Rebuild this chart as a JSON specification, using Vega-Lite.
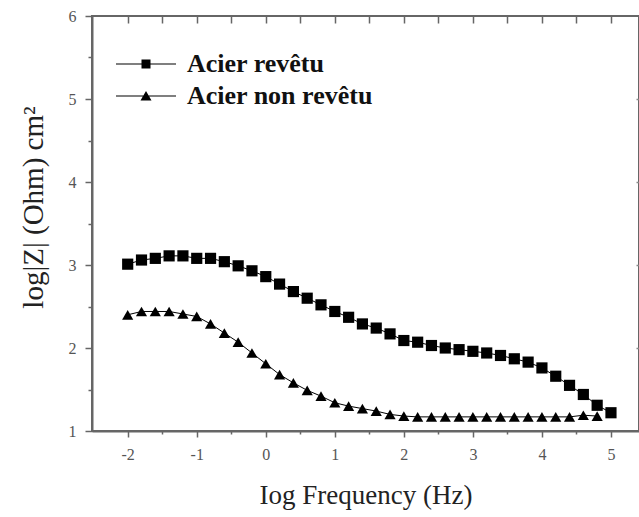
{
  "$schema": "https://vega.github.io/schema/vega-lite/v6.json",
  "autosize": "none",
  "padding": {"left": 92, "top": 16, "right": 0, "bottom": 86},
  "width": 547,
  "height": 415,
  "background": "white",
  "config": {"view": {"stroke": "#666", "strokeWidth": 2}},
  "data": {"values": [
    {"f": -2.0, "z": 3.01, "s": "Acier revêtu"},
    {"f": -1.8, "z": 3.06, "s": "Acier revêtu"},
    {"f": -1.6, "z": 3.08, "s": "Acier revêtu"},
    {"f": -1.4, "z": 3.11, "s": "Acier revêtu"},
    {"f": -1.2, "z": 3.11, "s": "Acier revêtu"},
    {"f": -1.0, "z": 3.08, "s": "Acier revêtu"},
    {"f": -0.8, "z": 3.08, "s": "Acier revêtu"},
    {"f": -0.6, "z": 3.04, "s": "Acier revêtu"},
    {"f": -0.4, "z": 2.99, "s": "Acier revêtu"},
    {"f": -0.2, "z": 2.93, "s": "Acier revêtu"},
    {"f": 0.0, "z": 2.86, "s": "Acier revêtu"},
    {"f": 0.2, "z": 2.77, "s": "Acier revêtu"},
    {"f": 0.4, "z": 2.68, "s": "Acier revêtu"},
    {"f": 0.6, "z": 2.60, "s": "Acier revêtu"},
    {"f": 0.8, "z": 2.52, "s": "Acier revêtu"},
    {"f": 1.0, "z": 2.44, "s": "Acier revêtu"},
    {"f": 1.2, "z": 2.37, "s": "Acier revêtu"},
    {"f": 1.4, "z": 2.29, "s": "Acier revêtu"},
    {"f": 1.6, "z": 2.24, "s": "Acier revêtu"},
    {"f": 1.8, "z": 2.17, "s": "Acier revêtu"},
    {"f": 2.0, "z": 2.09, "s": "Acier revêtu"},
    {"f": 2.2, "z": 2.07, "s": "Acier revêtu"},
    {"f": 2.4, "z": 2.03, "s": "Acier revêtu"},
    {"f": 2.6, "z": 2.00, "s": "Acier revêtu"},
    {"f": 2.8, "z": 1.98, "s": "Acier revêtu"},
    {"f": 3.0, "z": 1.96, "s": "Acier revêtu"},
    {"f": 3.2, "z": 1.94, "s": "Acier revêtu"},
    {"f": 3.4, "z": 1.91, "s": "Acier revêtu"},
    {"f": 3.6, "z": 1.87, "s": "Acier revêtu"},
    {"f": 3.8, "z": 1.83, "s": "Acier revêtu"},
    {"f": 4.0, "z": 1.76, "s": "Acier revêtu"},
    {"f": 4.2, "z": 1.66, "s": "Acier revêtu"},
    {"f": 4.4, "z": 1.55, "s": "Acier revêtu"},
    {"f": 4.6, "z": 1.44, "s": "Acier revêtu"},
    {"f": 4.8, "z": 1.31, "s": "Acier revêtu"},
    {"f": 5.0, "z": 1.22, "s": "Acier revêtu"},
    {"f": -2.0, "z": 2.40, "s": "Acier non revêtu"},
    {"f": -1.8, "z": 2.44, "s": "Acier non revêtu"},
    {"f": -1.6, "z": 2.44, "s": "Acier non revêtu"},
    {"f": -1.4, "z": 2.44, "s": "Acier non revêtu"},
    {"f": -1.2, "z": 2.41, "s": "Acier non revêtu"},
    {"f": -1.0, "z": 2.38, "s": "Acier non revêtu"},
    {"f": -0.8, "z": 2.29, "s": "Acier non revêtu"},
    {"f": -0.6, "z": 2.18, "s": "Acier non revêtu"},
    {"f": -0.4, "z": 2.07, "s": "Acier non revêtu"},
    {"f": -0.2, "z": 1.94, "s": "Acier non revêtu"},
    {"f": 0.0, "z": 1.81, "s": "Acier non revêtu"},
    {"f": 0.2, "z": 1.68, "s": "Acier non revêtu"},
    {"f": 0.4, "z": 1.58, "s": "Acier non revêtu"},
    {"f": 0.6, "z": 1.49, "s": "Acier non revêtu"},
    {"f": 0.8, "z": 1.42, "s": "Acier non revêtu"},
    {"f": 1.0, "z": 1.34, "s": "Acier non revêtu"},
    {"f": 1.2, "z": 1.30, "s": "Acier non revêtu"},
    {"f": 1.4, "z": 1.27, "s": "Acier non revêtu"},
    {"f": 1.6, "z": 1.24, "s": "Acier non revêtu"},
    {"f": 1.8, "z": 1.20, "s": "Acier non revêtu"},
    {"f": 2.0, "z": 1.18, "s": "Acier non revêtu"},
    {"f": 2.2, "z": 1.17, "s": "Acier non revêtu"},
    {"f": 2.4, "z": 1.17, "s": "Acier non revêtu"},
    {"f": 2.6, "z": 1.17, "s": "Acier non revêtu"},
    {"f": 2.8, "z": 1.17, "s": "Acier non revêtu"},
    {"f": 3.0, "z": 1.17, "s": "Acier non revêtu"},
    {"f": 3.2, "z": 1.17, "s": "Acier non revêtu"},
    {"f": 3.4, "z": 1.17, "s": "Acier non revêtu"},
    {"f": 3.6, "z": 1.17, "s": "Acier non revêtu"},
    {"f": 3.8, "z": 1.17, "s": "Acier non revêtu"},
    {"f": 4.0, "z": 1.17, "s": "Acier non revêtu"},
    {"f": 4.2, "z": 1.17, "s": "Acier non revêtu"},
    {"f": 4.4, "z": 1.17, "s": "Acier non revêtu"},
    {"f": 4.6, "z": 1.19, "s": "Acier non revêtu"},
    {"f": 4.8, "z": 1.18, "s": "Acier non revêtu"}
  ]},
  "layer": [
    {
      "mark": {"type": "line", "color": "black", "strokeWidth": 1},
      "encoding": {
        "x": {"field": "f", "type": "quantitative",
          "scale": {"domain": [-2.517, 5.406], "nice": false, "zero": false},
          "axis": {"orient": "bottom", "values": [-2, -1.5, -1, -0.5, 0, 0.5, 1, 1.5, 2, 2.5, 3, 3.5, 4, 4.5, 5],
            "labelExpr": "datum.value % 1 === 0 ? toString(datum.value) : ''",
            "labelOverlap": false, "labelFlush": false, "grid": false,
            "domainColor": "#666", "domainWidth": 2,
            "tickColor": "#666", "tickWidth": 1.5,
            "tickSize": {"condition": {"test": "datum.value % 1 === 0", "value": 6}, "value": 3},
            "labelFont": "Liberation Serif", "labelFontSize": 16, "labelColor": "#555", "labelPadding": 9,
            "title": "Iog Frequency (Hz)", "titleFont": "Liberation Serif", "titleFontSize": 27,
            "titleFontWeight": "normal", "titleColor": "#222", "titleBaseline": "alphabetic", "titleY": 72}},
        "y": {"field": "z", "type": "quantitative",
          "scale": {"domain": [1, 6], "nice": false, "zero": false},
          "axis": {"orient": "left", "values": [1, 1.5, 2, 2.5, 3, 3.5, 4, 4.5, 5, 5.5, 6],
            "labelExpr": "datum.value % 1 === 0 ? toString(datum.value) : ''",
            "labelOverlap": false, "labelFlush": false, "grid": false,
            "domainColor": "#666", "domainWidth": 2,
            "tickColor": "#666", "tickWidth": 1.5,
            "tickSize": {"condition": {"test": "datum.value % 1 === 0", "value": 7}, "value": 4},
            "labelFont": "Liberation Serif", "labelFontSize": 16, "labelColor": "#555", "labelPadding": 9,
            "title": "log|Z| (Ohm) cm²", "titleFont": "Liberation Serif", "titleFontSize": 29,
            "titleFontWeight": "normal", "titleColor": "#222", "titleBaseline": "alphabetic",
            "titleX": -50, "titleY": 191}},
        "detail": {"field": "s"}
      }
    },
    {
      "mark": {"type": "point", "filled": true, "color": "black", "opacity": 1, "size": 125},
      "encoding": {
        "x": {"field": "f", "type": "quantitative",
          "axis": {"orient": "top", "offset": -7, "values": [-2, -1.5, -1, -0.5, 0, 0.5, 1, 1.5, 2, 2.5, 3, 3.5, 4, 4.5, 5],
            "labels": true, "labelExpr": "''", "ticks": true, "domain": false, "title": null, "grid": false,
            "tickColor": "#666", "tickWidth": 1.5, "tickSize": 7}},
        "y": {"field": "z", "type": "quantitative",
          "axis": {"orient": "right", "values": [2, 3, 4, 5],
            "labels": false, "title": null, "grid": false, "domain": false,
            "tickColor": "#888", "tickWidth": 1.5, "tickSize": -3}},
        "shape": {"field": "s", "type": "nominal",
          "scale": {"domain": ["Acier revêtu", "Acier non revêtu"], "range": ["square", "triangle-up"]},
          "legend": null}
      }
    },
    {
      "mark": {"type": "point", "filled": true, "fill": "black", "opacity": 0},
      "encoding": {
        "x": {"field": "f", "type": "quantitative", "axis": null},
        "y": {"field": "z", "type": "quantitative", "axis": null},
        "shape": {"field": "s", "type": "nominal",
          "scale": {"domain": ["Acier revêtu", "Acier non revêtu"],
            "range": ["M-3,-0.06H3V0.06H-3ZM-0.45,-0.45H0.45V0.45H-0.45Z", "M-3,-0.06H3V0.06H-3ZM0,-0.5L0.55,0.45H-0.55Z"]},
          "legend": {"orient": "none", "legendX": 41, "legendY": 35, "title": null, "padding": 0,
            "labelFont": "Liberation Serif", "labelFontSize": 26, "labelFontWeight": "bold",
            "labelColor": "#111", "labelLimit": 400, "symbolSize": 400, "labelOffset": 28,
            "rowPadding": 6, "symbolFillColor": "black",
            "encode": {"symbols": {"update": {"opacity": {"value": 1}, "fill": {"value": "black"}, "fillOpacity": {"value": 1}}}}}}
      }
    }
  ],
  "resolve": {"scale": {"shape": "independent"}, "axis": {"x": "independent", "y": "independent"}}
}
